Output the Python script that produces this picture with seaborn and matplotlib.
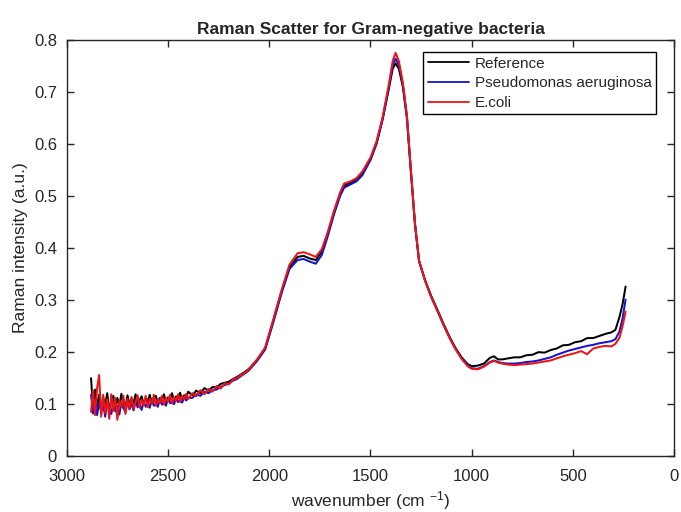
import numpy as np
import pandas as pd
import matplotlib
matplotlib.use("Agg")
import matplotlib.pyplot as plt
import seaborn as sns

# ---- data ----
wavenumber = [2880, 2870, 2860, 2850, 2840, 2830, 2820, 2810, 2800, 2790,
              2780, 2770, 2760, 2750, 2740, 2730, 2720, 2710, 2700, 2690,
              2680, 2670, 2660, 2650, 2640, 2630, 2620, 2610, 2600, 2590,
              2580, 2570, 2560, 2550, 2540, 2530, 2520, 2510, 2500, 2490,
              2480, 2470, 2460, 2450, 2440, 2430, 2420, 2410, 2400,
              2380, 2360, 2340, 2320, 2300, 2280, 2260, 2240, 2220, 2200,
              2180, 2160, 2140, 2120, 2100,
              2060, 2020, 1980, 1940, 1900, 1860, 1830, 1800, 1770, 1740,
              1710, 1680, 1650, 1630, 1600, 1570, 1540, 1500, 1470, 1440,
              1410, 1390, 1376, 1360, 1340, 1320, 1300, 1280, 1260, 1230,
              1200, 1170, 1140, 1110, 1080, 1050, 1020, 1000,
              970, 940, 910, 890, 870, 850, 820, 790, 760, 730,
              700, 670, 640, 610, 580, 550, 520, 490, 460, 430,
              400, 370, 340, 310, 290, 270, 255, 240]

reference = [0.150, 0.092, 0.128, 0.095, 0.118, 0.087, 0.113, 0.098, 0.121, 0.084,
             0.108, 0.116, 0.090, 0.112, 0.097, 0.120, 0.101, 0.094, 0.117, 0.099,
             0.111, 0.102, 0.119, 0.098, 0.108, 0.115, 0.100, 0.113, 0.104, 0.118,
             0.102, 0.110, 0.116, 0.103, 0.112, 0.107, 0.119, 0.104, 0.113, 0.109,
             0.121, 0.106, 0.115, 0.111, 0.122, 0.108, 0.117, 0.113, 0.124,
             0.117, 0.126, 0.121, 0.131, 0.126, 0.133, 0.132, 0.139, 0.141, 0.143,
             0.148, 0.152, 0.157, 0.162, 0.168,
             0.185, 0.207, 0.260, 0.315, 0.363, 0.383, 0.385, 0.380, 0.377, 0.393,
             0.428, 0.468, 0.503, 0.520, 0.525, 0.531, 0.544, 0.571, 0.602, 0.648,
             0.705, 0.745, 0.755, 0.745, 0.710, 0.650, 0.545, 0.445, 0.375, 0.338,
             0.308, 0.282, 0.255, 0.230, 0.208, 0.190, 0.177, 0.173,
             0.174, 0.178, 0.189, 0.192, 0.186, 0.186, 0.188, 0.190, 0.190, 0.194,
             0.195, 0.200, 0.199, 0.204, 0.207, 0.213, 0.214, 0.219, 0.221, 0.227,
             0.227, 0.231, 0.235, 0.238, 0.243, 0.268, 0.292, 0.326]

pseudomonas = [0.118, 0.082, 0.110, 0.079, 0.104, 0.085, 0.099, 0.076, 0.108, 0.088,
               0.081, 0.103, 0.086, 0.097, 0.080, 0.104, 0.092, 0.085, 0.106, 0.090,
               0.101, 0.088, 0.107, 0.094, 0.099, 0.089, 0.106, 0.095, 0.102, 0.093,
               0.109, 0.097, 0.101, 0.095, 0.110, 0.099, 0.104, 0.097, 0.111, 0.102,
               0.106, 0.100, 0.112, 0.104, 0.109, 0.103, 0.114, 0.107, 0.112,
               0.112, 0.119, 0.116, 0.124, 0.121, 0.127, 0.128, 0.133, 0.137, 0.139,
               0.145, 0.148, 0.154, 0.159, 0.165,
               0.183, 0.205, 0.257, 0.312, 0.360, 0.377, 0.379, 0.374, 0.370, 0.387,
               0.424, 0.465, 0.500, 0.516, 0.522, 0.528, 0.540, 0.569, 0.600, 0.647,
               0.707, 0.752, 0.764, 0.752, 0.714, 0.652, 0.547, 0.446, 0.375, 0.337,
               0.306, 0.280, 0.253, 0.228, 0.206, 0.188, 0.175, 0.169,
               0.168, 0.173, 0.181, 0.184, 0.181, 0.179, 0.178, 0.178, 0.179, 0.181,
               0.182, 0.184, 0.187, 0.190, 0.195, 0.199, 0.203, 0.206, 0.209, 0.212,
               0.214, 0.217, 0.219, 0.221, 0.225, 0.240, 0.265, 0.301]

ecoli = [0.085, 0.126, 0.079, 0.131, 0.156, 0.076, 0.118, 0.083, 0.109, 0.072,
         0.119, 0.087, 0.112, 0.070, 0.106, 0.095, 0.116, 0.081, 0.110, 0.092,
         0.114, 0.090, 0.104, 0.117, 0.093, 0.108, 0.098, 0.116, 0.094, 0.110,
         0.101, 0.118, 0.097, 0.109, 0.102, 0.116, 0.099, 0.112, 0.105, 0.118,
         0.101, 0.113, 0.106, 0.119, 0.104, 0.115, 0.109, 0.120, 0.110,
         0.121, 0.115, 0.127, 0.119, 0.129, 0.124, 0.135, 0.130, 0.140, 0.138,
         0.147, 0.150, 0.156, 0.160, 0.167,
         0.186, 0.209, 0.263, 0.318, 0.368, 0.390, 0.392, 0.388, 0.383, 0.398,
         0.432, 0.472, 0.507, 0.524, 0.528, 0.534, 0.547, 0.574, 0.605, 0.652,
         0.713, 0.760, 0.775, 0.760, 0.718, 0.655, 0.548, 0.446, 0.376, 0.337,
         0.306, 0.280, 0.253, 0.228, 0.206, 0.187, 0.173, 0.168,
         0.167, 0.172, 0.180, 0.183, 0.180, 0.178, 0.176, 0.175, 0.176, 0.177,
         0.178, 0.180, 0.182, 0.184, 0.188, 0.192, 0.195, 0.198, 0.202, 0.196,
         0.207, 0.210, 0.212, 0.211, 0.216, 0.228, 0.250, 0.278]

series_names = ["Reference", "Pseudomonas aeruginosa", "E.coli"]
series_colors = ["#000000", "#1414c8", "#ee1414"]

x_ticks = [3000, 2500, 2000, 1500, 1000, 500, 0]
y_ticks = [0, 0.1, 0.2, 0.3, 0.4, 0.5, 0.6, 0.7, 0.8]
y_tick_labels = ["0", "0.1", "0.2", "0.3", "0.4", "0.5", "0.6", "0.7", "0.8"]

# ---- build table ----
frames = []
for name, vals in zip(series_names, [reference, pseudomonas, ecoli]):
    frames.append(pd.DataFrame({"wavenumber": wavenumber, "intensity": vals, "sample": name}))
df = pd.concat(frames, ignore_index=True)

sns.set_theme(style="white")
plt.rcParams["font.family"] = ["Liberation Sans", "DejaVu Sans"]
plt.rcParams["mathtext.fontset"] = "custom"
plt.rcParams["mathtext.rm"] = "Liberation Sans"
plt.rcParams["mathtext.it"] = "Liberation Sans"

fig = plt.figure(figsize=(6.81, 5.12), dpi=100)
ax = fig.add_axes([0.098, 0.109, 0.892, 0.813])

sns.lineplot(data=df, x="wavenumber", y="intensity", hue="sample",
             hue_order=series_names, palette=series_colors,
             sort=False, estimator=None, linewidth=1.45, ax=ax)

ax.set_xlim(3000, 0)
ax.set_ylim(0, 0.8)
ax.set_xticks(x_ticks)
ax.set_xticklabels([str(t) for t in x_ticks])
ax.set_yticks(y_ticks)
ax.set_yticklabels(y_tick_labels)

tc = "#262626"
for s in ax.spines.values():
    s.set_color(tc)
    s.set_linewidth(1.0)
    s.set_visible(True)
ax.tick_params(direction="in", length=5, width=1, colors=tc, labelsize=12,
               top=True, right=True, bottom=True, left=True, pad=7)
ax.tick_params(axis="x", pad=9)

ax.set_title("Raman Scatter for Gram-negative bacteria", fontsize=12.5,
             fontweight="bold", pad=4)
ax.set_xlabel("wavenumber (cm $^{-1}$)", fontsize=12.5, color=tc, labelpad=4)
ax.set_ylabel("Raman intensity (a.u.)", fontsize=12.5, color=tc, labelpad=4)

leg = ax.legend(loc="upper left", bbox_to_anchor=(0.5865, 0.971), fontsize=11,
                frameon=True, fancybox=False, framealpha=1, edgecolor="#000000",
                handlelength=2.7, handletextpad=0.4, borderpad=0.3,
                labelspacing=0.37, borderaxespad=0.0)
leg.get_frame().set_linewidth(1.0)
for line in leg.get_lines():
    line.set_linewidth(1.3)

fig.savefig("out.png", dpi=100)
